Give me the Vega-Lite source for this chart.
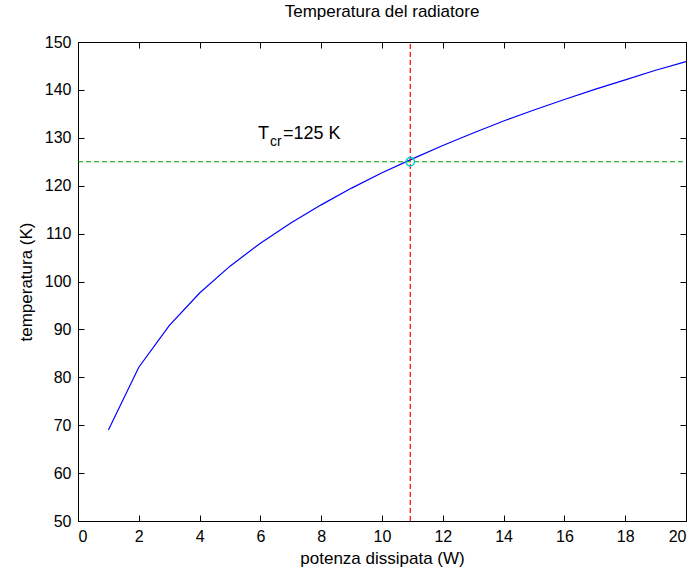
{
  "$schema": "https://vega.github.io/schema/vega-lite/v6.json",
  "autosize": "none",
  "width": 608,
  "height": 479,
  "padding": {"left": 78, "top": 42, "right": 12, "bottom": 54},
  "background": "white",
  "title": {"text": "Temperatura del radiatore", "fontSize": 17, "fontWeight": "normal", "font": "Liberation Sans", "color": "black", "offset": 13},
  "config": {
    "view": {"stroke": "black", "strokeWidth": 1},
    "axis": {"grid": false, "domainColor": "black", "tickColor": "black", "labelColor": "black", "titleColor": "black", "labelFont": "Liberation Sans", "titleFont": "Liberation Sans", "labelFontSize": 16, "titleFontSize": 17, "titleFontWeight": "normal", "tickSize": -6, "tickWidth": 1, "labelPadding": 13}
  },
  "datasets": {
    "curve": [
      {"P": 1, "T": 69.0}, {"P": 2, "T": 82.1}, {"P": 3, "T": 90.8}, {"P": 4, "T": 97.6},
      {"P": 5, "T": 103.2}, {"P": 6, "T": 108.0}, {"P": 7, "T": 112.2}, {"P": 8, "T": 116.0},
      {"P": 9, "T": 119.5}, {"P": 10, "T": 122.7}, {"P": 11, "T": 125.6}, {"P": 12, "T": 128.4},
      {"P": 13, "T": 131.0}, {"P": 14, "T": 133.5}, {"P": 15, "T": 135.8}, {"P": 16, "T": 138.0},
      {"P": 17, "T": 140.1}, {"P": 18, "T": 142.1}, {"P": 19, "T": 144.1}, {"P": 20, "T": 145.9}
    ],
    "vline": [{"P": 10.93, "T": 50}, {"P": 10.93, "T": 150}],
    "hline": [{"P": 0, "T": 125}, {"P": 20, "T": 125}],
    "crit": [{"P": 10.93, "T": 125}],
    "label": [{"P": 5.92, "T": 129.7}]
  },
  "layer": [
    {
      "data": {"name": "curve"},
      "mark": {"type": "line", "color": "#0000ff", "strokeWidth": 1.2},
      "encoding": {
        "x": {"field": "P", "type": "quantitative", "scale": {"domain": [0, 20], "nice": false}, "axis": {"title": "potenza dissipata (W)", "values": [0,2,4,6,8,10,12,14,16,18,20], "titlePadding": 6}},
        "y": {"field": "T", "type": "quantitative", "scale": {"domain": [50, 150], "nice": false, "zero": false}, "axis": {"title": "temperatura (K)", "values": [50,60,70,80,90,100,110,120,130,140,150], "titlePadding": 9}}
      }
    },
    {
      "data": {"name": "vline"},
      "mark": {"type": "line", "color": "#ff0000", "strokeWidth": 1.2, "strokeDash": [5, 3]},
      "encoding": {"x": {"field": "P", "type": "quantitative", "axis": null}, "y": {"field": "T", "type": "quantitative", "axis": null}}
    },
    {
      "data": {"name": "hline"},
      "mark": {"type": "line", "color": "#00a000", "strokeWidth": 1.2, "strokeDash": [5, 3]},
      "encoding": {"x": {"field": "P", "type": "quantitative", "axis": null}, "y": {"field": "T", "type": "quantitative", "axis": null}}
    },
    {
      "data": {"name": "crit"},
      "mark": {"type": "point", "shape": "circle", "color": "#00cccc", "filled": false, "size": 70, "strokeWidth": 1.4, "opacity": 1},
      "encoding": {"x": {"field": "P", "type": "quantitative", "axis": null}, "y": {"field": "T", "type": "quantitative", "axis": null}}
    },
    {
      "data": {"name": "label"},
      "mark": {"type": "text", "text": "T", "font": "Liberation Sans", "fontSize": 18, "align": "left", "baseline": "alphabetic", "color": "black"},
      "encoding": {"x": {"field": "P", "type": "quantitative", "axis": null}, "y": {"field": "T", "type": "quantitative", "axis": null}}
    },
    {
      "data": {"name": "label"},
      "mark": {"type": "text", "text": "cr", "font": "Liberation Sans", "fontSize": 14, "align": "left", "baseline": "alphabetic", "color": "black", "dx": 12, "dy": 7},
      "encoding": {"x": {"field": "P", "type": "quantitative", "axis": null}, "y": {"field": "T", "type": "quantitative", "axis": null}}
    },
    {
      "data": {"name": "label"},
      "mark": {"type": "text", "text": "=125 K", "font": "Liberation Sans", "fontSize": 18, "align": "left", "baseline": "alphabetic", "color": "black", "dx": 25},
      "encoding": {"x": {"field": "P", "type": "quantitative", "axis": null}, "y": {"field": "T", "type": "quantitative", "axis": null}}
    },
    {
      "data": {"name": "crit"},
      "mark": {"type": "point", "opacity": 0},
      "encoding": {
        "x": {"field": "P", "type": "quantitative", "scale": {"domain": [0, 20], "nice": false}, "axis": {"orient": "top", "values": [0,2,4,6,8,10,12,14,16,18,20], "labels": false, "title": null, "domain": false}},
        "y": {"field": "T", "type": "quantitative", "scale": {"domain": [50, 150], "nice": false, "zero": false}, "axis": {"orient": "right", "values": [50,60,70,80,90,100,110,120,130,140,150], "labels": false, "title": null, "domain": false}}
      }
    }
  ],
  "resolve": {"axis": {"x": "independent", "y": "independent"}}
}
